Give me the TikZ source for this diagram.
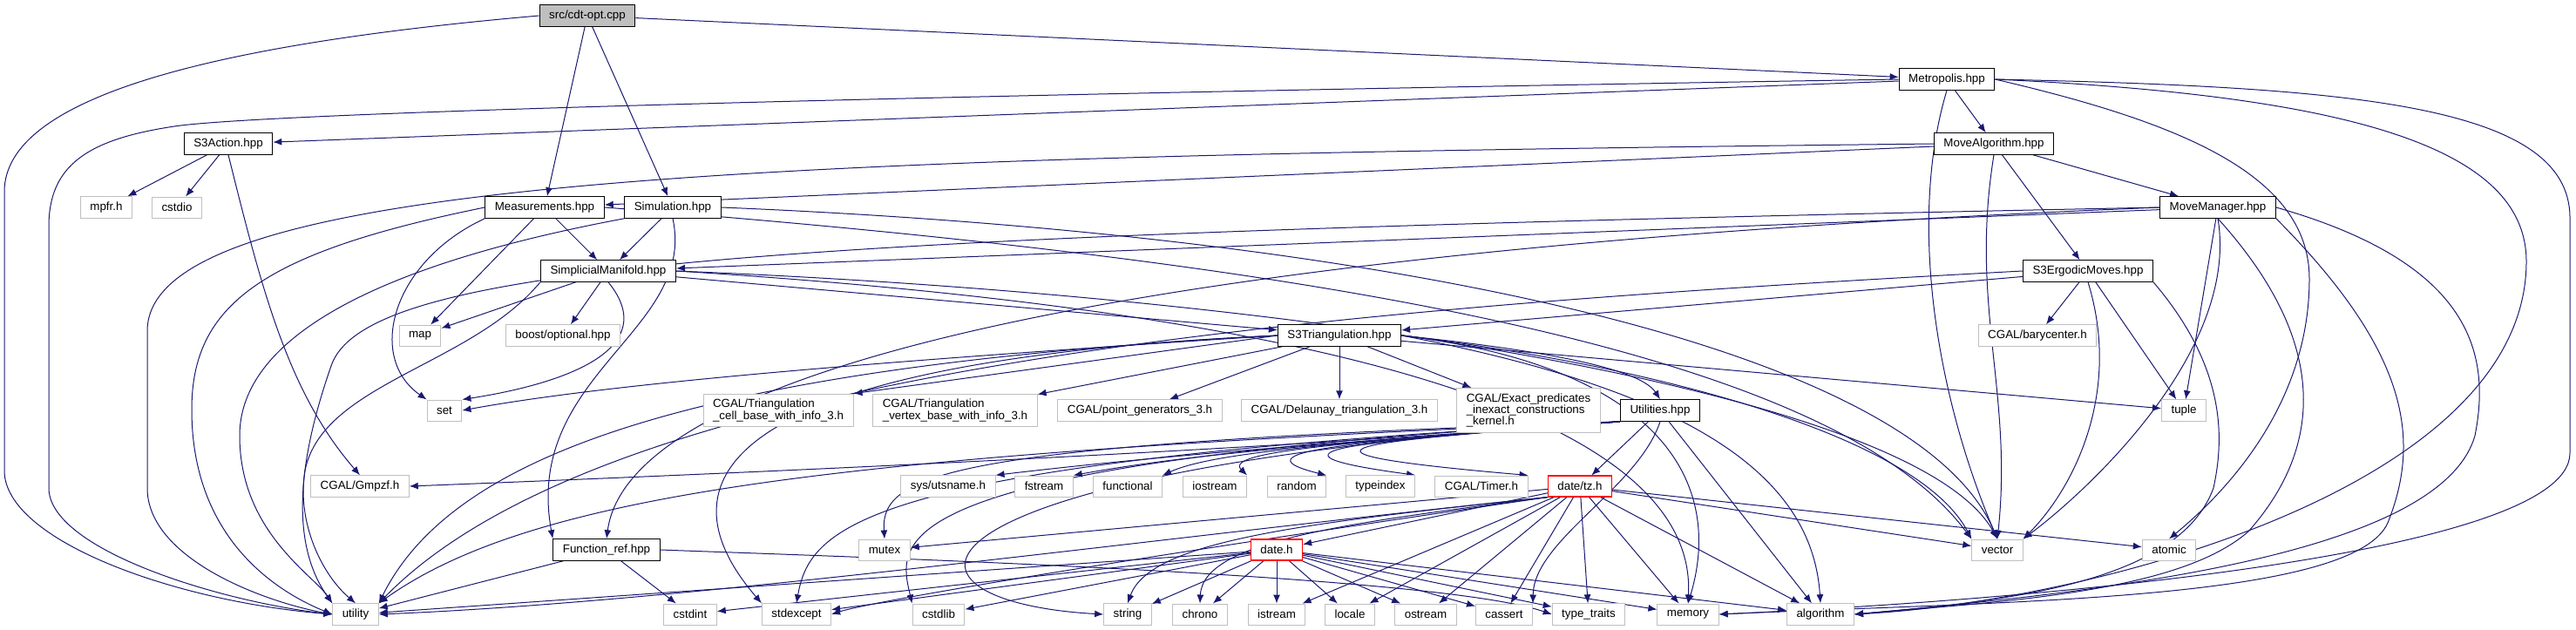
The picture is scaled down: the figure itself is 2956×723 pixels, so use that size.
\documentclass[tikz,border=0pt]{standalone}
\usepackage{fontspec}
\setmainfont{Liberation Sans}
\usepackage{tikz}
\usetikzlibrary{arrows.meta}
\definecolor{edgeblue}{HTML}{191970}
\definecolor{boxgray}{HTML}{BFBFBF}
\definecolor{truncred}{HTML}{FF0000}
\pgfdeclarelayer{edges}
\pgfsetlayers{edges,main}
\tikzset{
  hdr/.style={draw=black,line width=0.35mm,fill=white,minimum height=7.2mm,inner xsep=3.3mm,inner ysep=1.8mm,align=left},
  sys/.style={hdr,draw=boxgray,line width=0.3mm},
  trunc/.style={hdr,draw=truncred},
  root/.style={hdr,fill=boxgray},
  dep/.style={-{Latex[length=3mm,width=2.4mm]},line width=0.3mm,edgeblue}
}

\begin{document}
\begin{tikzpicture}[x=0.3mm,y=0.3mm,font=\fontsize{11.4}{11.4}\selectfont]
\useasboundingbox (0,0) rectangle (2956,-723);
% project headers
\node[root] (cpp) at (674,-18) {src/cdt-opt.cpp};
\node[hdr] (metro) at (2234,-91) {Metropolis.hpp};
\node[hdr] (s3act) at (262,-165) {S3Action.hpp};
\node[hdr] (movealg) at (2288,-165) {MoveAlgorithm.hpp};
\node[hdr] (meas) at (625,-238) {Measurements.hpp};
\node[hdr] (sim) at (772,-238) {Simulation.hpp};
\node[hdr] (movemgr) at (2545,-238) {MoveManager.hpp};
\node[hdr] (simp) at (698,-311) {SimplicialManifold.hpp};
\node[hdr] (ergodic) at (2396,-311) {S3ErgodicMoves.hpp};
\node[hdr] (s3tri) at (1537,-385) {S3Triangulation.hpp};
\node[hdr] (util) at (1905,-471) {Utilities.hpp};
\node[hdr] (funcref) at (696,-631) {Function\_ref.hpp};
\node[trunc] (tz) at (1813,-558) {date/tz.h};
\node[trunc] (date) at (1465,-631) {date.h};
% system and library headers
\node[sys] (mpfr) at (122,-238) {mpfr.h};
\node[sys] (cstdio) at (203,-238) {cstdio};
\node[sys] (map) at (482,-385) {map};
\node[sys] (boostopt) at (646,-385) {boost/optional.hpp};
\node[sys] (bary) at (2338,-385) {CGAL/barycenter.h};
\node[sys] (set) at (510,-471) {set};
\node[sys] (cellbase) at (893,-471) {CGAL/Triangulation\\\_cell\_base\_with\_info\_3.h};
\node[sys] (vertbase) at (1096,-471) {CGAL/Triangulation\\\_vertex\_base\_with\_info\_3.h};
\node[sys] (pointgen) at (1308,-471) {CGAL/point\_generators\_3.h};
\node[sys] (delaunay) at (1537,-471) {CGAL/Delaunay\_triangulation\_3.h};
\node[sys] (epick) at (1754,-471) {CGAL/Exact\_predicates\\\_inexact\_constructions\\\_kernel.h};
\node[sys] (tuple) at (2506,-471) {tuple};
\node[sys] (gmpzf) at (413,-558) {CGAL/Gmpzf.h};
\node[sys] (utsname) at (1088,-558) {sys/utsname.h};
\node[sys] (fstream) at (1198,-558) {fstream};
\node[sys] (functional) at (1294,-558) {functional};
\node[sys] (iostream) at (1394,-558) {iostream};
\node[sys] (random) at (1488,-558) {random};
\node[sys] (typeindex) at (1584,-558) {typeindex};
\node[sys] (timer) at (1700,-558) {CGAL/Timer.h};
\node[sys] (mutex) at (1015,-631) {mutex};
\node[sys] (vector) at (2292,-631) {vector};
\node[sys] (atomic) at (2489,-631) {atomic};
\node[sys] (utility) at (408,-705) {utility};
\node[sys] (cstdint) at (792,-705) {cstdint};
\node[sys] (stdexcept) at (914,-705) {stdexcept};
\node[sys] (cstdlib) at (1077,-705) {cstdlib};
\node[sys] (string) at (1294,-705) {string};
\node[sys] (chrono) at (1377,-705) {chrono};
\node[sys] (istream) at (1465,-705) {istream};
\node[sys] (locale) at (1549,-705) {locale};
\node[sys] (ostream) at (1636,-705) {ostream};
\node[sys] (cassert) at (1726,-705) {cassert};
\node[sys] (typetraits) at (1823,-705) {type\_traits};
\node[sys] (memory) at (1937,-705) {memory};
\node[sys] (algorithm) at (2089,-705) {algorithm};

\begin{pgfonlayer}{edges}
% straight includes
\foreach \p/\q in {cpp/meas,cpp/sim,cpp/metro,metro/s3act,metro/movealg,s3act/mpfr,s3act/cstdio,
  movealg/meas,movealg/movemgr,movealg/ergodic,meas/simp,meas/map,sim/simp,simp/boostopt,simp/map,
  simp/s3tri,movemgr/simp,movemgr/tuple,ergodic/s3tri,ergodic/bary,ergodic/tuple,
  s3tri/vertbase,s3tri/pointgen,s3tri/delaunay,s3tri/epick,s3tri/tuple,
  util/tz,util/algorithm,funcref/utility,funcref/cstdint,tz/date,tz/vector,tz/atomic,tz/mutex,
  tz/istream,tz/locale,tz/ostream,tz/cassert,tz/typetraits,tz/memory,tz/algorithm,
  date/string,date/chrono,date/istream,date/locale,date/ostream,date/cassert,date/typetraits,
  date/memory,date/algorithm,date/cstdlib,date/stdexcept,date/cstdint,date/utility}
  {\draw[dep] (\p)--(\q);}
\draw[dep] (s3act.south) .. controls (300,-330) and (330,-450) .. (gmpzf.north);
\draw[dep] (s3tri.west) -- (cellbase.north east);
\draw[dep] (s3tri.east) .. controls (1750,-400) and (1880,-420) .. (util.north);
\draw[dep] (funcref.east) .. controls (1000,-640) and (1650,-660) .. (typetraits.west);
\foreach \q in {utsname,fstream,functional,iostream,random,typeindex,timer}
  {\draw[dep] (util.south west) .. controls (1600,-505) and (1400,-515) .. (\q.north east);}
% long curves into utility
\draw[dep] (cpp.west) .. controls (250,-50) and (5,-110) .. (5,-220) -- (5,-540) .. controls (5,-620) and (200,-690) .. (utility.west);
\draw[dep] (metro.west) .. controls (1000,-110) and (300,-130) .. (200,-145) .. controls (100,-160) and (56,-190) .. (56,-260) -- (56,-560) .. controls (56,-630) and (250,-690) .. (utility.west);
\draw[dep] (movealg.west) .. controls (900,-180) and (169,-200) .. (169,-380) -- (169,-560) .. controls (169,-640) and (300,-690) .. (utility.west);
\draw[dep] (meas.west) .. controls (300,-290) and (220,-350) .. (220,-470) .. controls (220,-620) and (320,-680) .. (utility.west);
\draw[dep] (sim.south west) .. controls (400,-310) and (275,-400) .. (275,-500) .. controls (275,-610) and (360,-660) .. (utility.north west);
\draw[dep] (movemgr.west) .. controls (900,-270) and (420,-300) .. (380,-420) .. controls (345,-520) and (330,-620) .. (utility.north west);
\draw[dep] (simp.south west) .. controls (540,-420) and (370,-440) .. (350,-540) .. controls (340,-600) and (370,-660) .. (utility.north);
\draw[dep] (s3tri.west) .. controls (800,-420) and (520,-520) .. (utility.north east);
\draw[dep] (ergodic.west) .. controls (1500,-355) and (700,-420) .. (utility.north east);
\draw[dep] (util.south west) .. controls (1000,-520) and (620,-560) .. (utility.north east);
\draw[dep] (tz.south west) .. controls (1300,-620) and (800,-690) .. (utility.east);
% set and Function_ref
\draw[dep] (meas.south west) .. controls (450,-300) and (420,-410) .. (set.north west);
\draw[dep] (simp.south) .. controls (760,-400) and (650,-440) .. (set.north east);
\draw[dep] (s3tri.west) .. controls (1000,-415) and (700,-440) .. (set.east);
\draw[dep] (sim.south) .. controls (800,-380) and (600,-430) .. (funcref.north west);
\draw[dep] (movemgr.west) .. controls (1200,-290) and (720,-440) .. (funcref.north);
% into vector
\draw[dep] (meas.east) .. controls (1500,-300) and (2100,-400) .. (vector.north west);
\draw[dep] (sim.east) .. controls (1600,-270) and (2200,-400) .. (vector.north);
\draw[dep] (simp.east) .. controls (1500,-340) and (2200,-450) .. (vector.north);
\draw[dep] (metro.south) .. controls (2190,-250) and (2220,-450) .. (vector.north);
\draw[dep] (movealg.south) .. controls (2260,-350) and (2310,-450) .. (vector.north);
\draw[dep] (movemgr.south) .. controls (2570,-400) and (2400,-560) .. (vector.north east);
\draw[dep] (ergodic.south) .. controls (2435,-450) and (2380,-560) .. (vector.north east);
\draw[dep] (s3tri.east) .. controls (1900,-420) and (2200,-500) .. (vector.north west);
% into memory, algorithm and atomic
\draw[dep] (simp.east) .. controls (1400,-350) and (1950,-450) .. (memory.north);
\draw[dep] (s3tri.east) .. controls (1900,-420) and (1980,-550) .. (memory.north);
\draw[dep] (s3tri.east) .. controls (1950,-450) and (2080,-550) .. (algorithm.north);
\draw[dep] (metro.east) .. controls (2700,-100) and (2949,-120) .. (2949,-250) -- (2949,-520) .. controls (2949,-640) and (2300,-690) .. (memory.east);
\draw[dep] (metro.east) .. controls (2700,-110) and (2899,-170) .. (2899,-300) .. controls (2899,-560) and (2400,-690) .. (algorithm.east);
\draw[dep] (metro.east) .. controls (2500,-140) and (2650,-200) .. (2650,-320) .. controls (2650,-460) and (2560,-560) .. (atomic.north);
\draw[dep] (movemgr.east) .. controls (2830,-300) and (2860,-400) .. (2840,-500) .. controls (2800,-640) and (2400,-680) .. (algorithm.east);
\draw[dep] (movemgr.south east) .. controls (2760,-400) and (2780,-500) .. (2740,-600) .. controls (2700,-690) and (2300,-690) .. (memory.east);
\draw[dep] (movemgr.south) .. controls (2680,-400) and (2660,-520) .. (2580,-610) .. controls (2500,-680) and (2300,-690) .. (algorithm.east);
\draw[dep] (ergodic.south east) .. controls (2553,-420) and (2553,-500) .. (2540,-560) .. controls (2500,-670) and (2300,-690) .. (algorithm.east);
% Utilities and date/tz.h to the lower row
\draw[dep] (s3tri.west) .. controls (800,-415) and (760,-560) .. (stdexcept.north west);
\draw[dep] (util.south west) .. controls (1000,-530) and (930,-600) .. (stdexcept.north);
\draw[dep] (tz.south west) .. controls (1300,-640) and (1000,-690) .. (stdexcept.east);
\draw[dep] (util.south west) .. controls (1000,-530) and (1030,-620) .. (cstdlib.north west);
\draw[dep] (util.south west) .. controls (1100,-510) and (1010,-540) .. (mutex.north);
\draw[dep] (util.south west) .. controls (1000,-540) and (1000,-690) .. (string.west);
\draw[dep] (tz.south west) .. controls (1500,-600) and (1320,-620) .. (string.north);
\draw[dep] (tz.south west) .. controls (1550,-600) and (1380,-620) .. (chrono.north);
\draw[dep] (util.south) .. controls (1880,-560) and (1760,-620) .. (cassert.north east);
\draw[dep] (util.south west) .. controls (1400,-520) and (800,-545) .. (gmpzf.east);
\end{pgfonlayer}
\end{tikzpicture}
\end{document}
